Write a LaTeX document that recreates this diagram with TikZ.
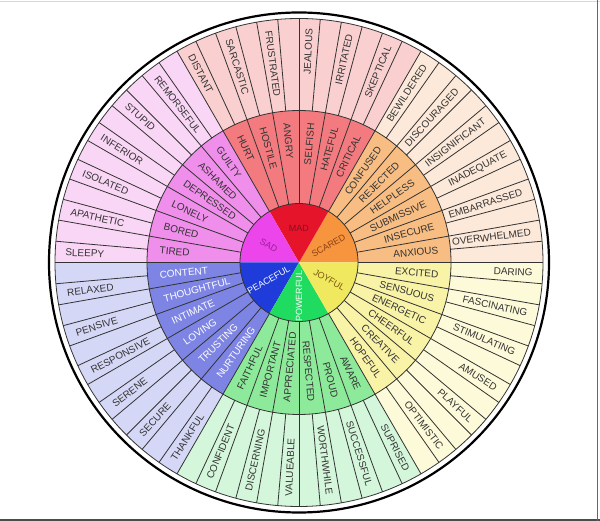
\documentclass[tikz,border=0pt]{standalone}
\usepackage{fontspec}
\setmainfont{Liberation Sans}

\definecolor{scaredC}{HTML}{F7953E}
\definecolor{scaredM}{HTML}{F8BD82}
\definecolor{scaredO}{HTML}{FCE9D9}
\definecolor{scaredT}{HTML}{8A4015}
\definecolor{madC}{HTML}{E5142B}
\definecolor{madM}{HTML}{F37B80}
\definecolor{madO}{HTML}{F9CFD0}
\definecolor{madT}{HTML}{8A0F1E}
\definecolor{sadC}{HTML}{EB45EB}
\definecolor{sadM}{HTML}{F08EEB}
\definecolor{sadO}{HTML}{F9D6F5}
\definecolor{sadT}{HTML}{9A2098}
\definecolor{peacefulC}{HTML}{1F3BD9}
\definecolor{peacefulM}{HTML}{7D84E4}
\definecolor{peacefulO}{HTML}{D5D7F6}
\definecolor{powerfulC}{HTML}{1FDB5F}
\definecolor{powerfulM}{HTML}{8EEA9B}
\definecolor{powerfulO}{HTML}{D4F6DA}
\definecolor{joyfulC}{HTML}{F0E85E}
\definecolor{joyfulM}{HTML}{F9F3A7}
\definecolor{joyfulO}{HTML}{FDFAD9}
\definecolor{joyfulT}{HTML}{7A5A15}

\begin{document}
\begin{tikzpicture}[x=1pt,y=1pt,
        ring/.style={draw=black!80,line width=0.8pt},
        word/.style={font=\fontsize{10}{12}\selectfont,text=black!80,inner sep=0pt},
        core/.style={font=\fontsize{9}{11}\selectfont,inner sep=0pt}]
    \useasboundingbox (-299,-258.5) rectangle (301,262.5);
    \fill[white] (-299,-258.5) rectangle (301,262.5);
    \draw[black!15,line width=1pt] (-299,260.5) -- (301,260.5);
    \draw[black!70,line width=2pt] (-299,-257.5) -- (301,-257.5);
    \draw[black!60,line width=1.5pt] (298.5,-258.5) -- (298.5,262.5);

    \foreach \cc/\cm/\co [count=\k from 0] in {scaredC/scaredM/scaredO,madC/madM/madO,sadC/sadM/sadO,
            peacefulC/peacefulM/peacefulO,powerfulC/powerfulM/powerfulO,joyfulC/joyfulM/joyfulO} {
        \pgfmathsetmacro\a{60*\k}
        \fill[\co] (\a:152) -- (\a:244) arc[start angle=\a, end angle=\a+60, radius=244]
            -- ({\a+60}:152) arc[start angle=\a+60, end angle=\a, radius=152] -- cycle;
        \fill[\cm] (\a:59) -- (\a:152) arc[start angle=\a, end angle=\a+60, radius=152]
            -- ({\a+60}:59) arc[start angle=\a+60, end angle=\a, radius=59] -- cycle;
        \fill[\cc] (0,0) -- (\a:59) arc[start angle=\a, end angle=\a+60, radius=59] -- cycle;
    }

    \foreach \i in {0,...,35} {
        \draw[ring] ({10*\i}:59) -- ({10*\i}:244);
        \draw[ring] ({10*\i+5}:152) -- ({10*\i+5}:244);
    }
    \draw[ring] (0,0) circle[radius=59];
    \draw[ring] (0,0) circle[radius=152];
    \draw[ring] (0,0) circle[radius=244];
    \draw[black,line width=2.2pt] (0,0) circle[radius=250];

    \foreach \w [count=\i from 0] in {ANXIOUS,INSECURE,SUBMISSIVE,HELPLESS,REJECTED,CONFUSED,
            CRITICAL,HATEFUL,SELFISH,ANGRY,HOSTILE,HURT,
            GUILTY,ASHAMED,DEPRESSED,LONELY,BORED,TIRED,
            CONTENT,THOUGHTFUL,INTIMATE,LOVING,TRUSTING,NURTURING,
            FAITHFUL,IMPORTANT,APPRECIATED,RESPECTED,PROUD,AWARE,
            HOPEFUL,CREATIVE,CHEERFUL,ENERGETIC,SENSUOUS,EXCITED} {
        \pgfmathsetmacro\th{10*\i+5}
        \pgfmathtruncatemacro\flip{cos(\th)<0}
        \ifnum\flip=1 \def\rot{\th+180}\def\anc{west}\else\def\rot{\th}\def\anc{east}\fi
        \def\tc{black!80}
        \ifnum\i>17 \ifnum\i<24 \def\tc{white}\fi\fi
        \node[word,text=\tc,rotate=\rot,anchor=\anc] (mid-\i) at (\th:140) {\w};
    }

    \foreach \w [count=\i from 0] in {OVERWHELMED,EMBARRASSED,INADEQUATE,INSIGNIFICANT,DISCOURAGED,BEWILDERED,
            SKEPTICAL,IRRITATED,JEALOUS,FRUSTRATED,SARCASTIC,DISTANT,
            REMORSEFUL,STUPID,INFERIOR,ISOLATED,APATHETIC,SLEEPY,
            RELAXED,PENSIVE,RESPONSIVE,SERENE,SECURE,THANKFUL,
            CONFIDENT,DISCERNING,VALUEABLE,WORTHWHILE,SUCCESSFUL,SUPRISED,
            OPTIMISTIC,PLAYFUL,AMUSED,STIMULATING,FASCINATING,DARING} {
        \pgfmathsetmacro\th{10*\i+7.5}
        \pgfmathtruncatemacro\flip{cos(\th)<0}
        \ifnum\flip=1 \def\rot{\th+180}\def\anc{west}\else\def\rot{\th}\def\anc{east}\fi
        \node[word,rotate=\rot,anchor=\anc] (out-\i) at (\th:234) {\w};
    }

    \node[core,text=madT] (mad) at (90:34) {MAD};
    \node[core,text=scaredT,rotate=30] (scared) at (30:34) {SCARED};
    \node[core,text=joyfulT,rotate=-30] (joyful) at (-30:35) {JOYFUL};
    \node[core,text=white,rotate=90] (powerful) at (270:34) {POWERFUL};
    \node[core,text=white,rotate=30] (peaceful) at (210:35) {PEACEFUL};
    \node[core,text=sadT,rotate=-30] (sad) at (150:35) {SAD};
\end{tikzpicture}
\end{document}
